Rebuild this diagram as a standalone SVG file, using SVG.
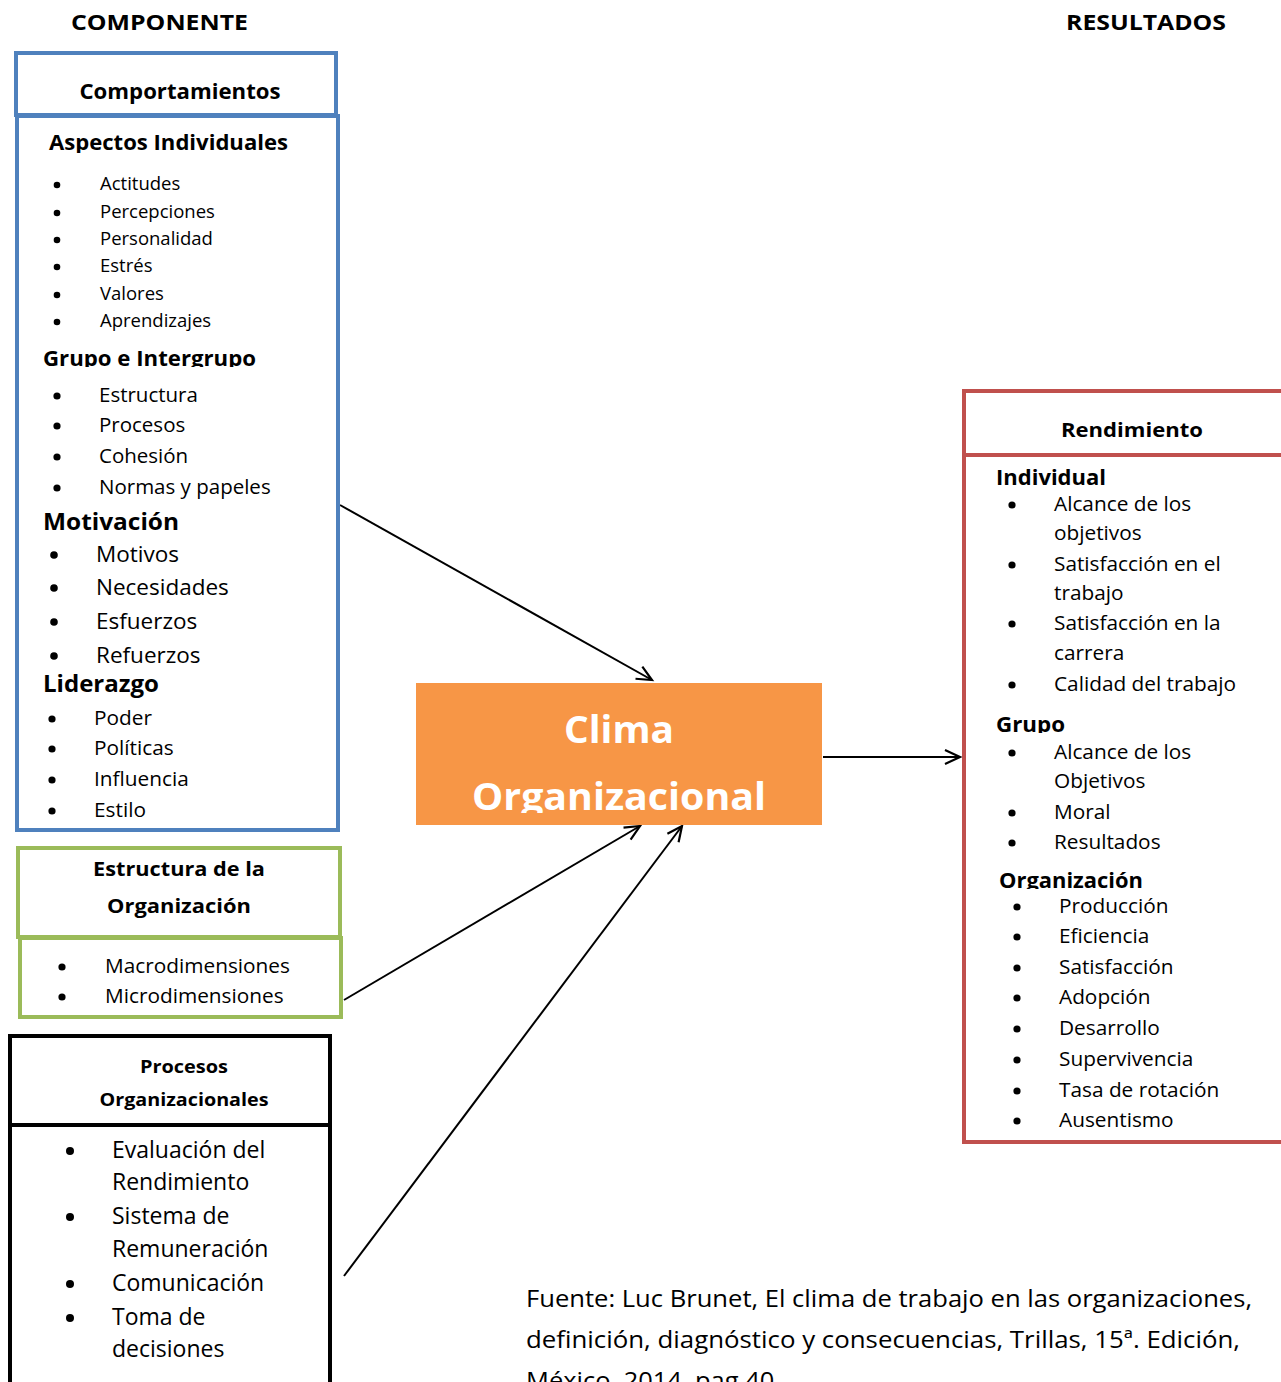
<svg xmlns="http://www.w3.org/2000/svg" width="1281" height="1382" viewBox="0 0 1281 1382">
<style>
text{font-family:"Open Sans","Liberation Sans",sans-serif;fill:#000}
.b{font-weight:bold}
.c{text-anchor:middle}
.w{fill:#fff}
.conn{stroke:#000;stroke-width:2;fill:none;marker-end:url(#arr)}
</style>
<defs>
<marker id="arr" markerUnits="userSpaceOnUse" markerWidth="20" markerHeight="20" refX="17" refY="8" orient="auto" viewBox="0 0 20 16">
<path d="M2,1 L17,8 L2,15" fill="none" stroke="#000" stroke-width="2.2"/>
</marker>
<clipPath id="cA"><rect x="0" y="120" width="340" height="33"/></clipPath>
<clipPath id="cG"><rect x="0" y="340" width="340" height="27"/></clipPath>
<clipPath id="cM"><rect x="0" y="505" width="340" height="26"/></clipPath>
<clipPath id="cRG"><rect x="980" y="705" width="300" height="28"/></clipPath>
<clipPath id="cRO"><rect x="980" y="860" width="300" height="29"/></clipPath>
<clipPath id="cO"><rect x="416" y="683" width="406" height="130"/></clipPath>
</defs>

<g id="titles">
<text class="b" x="71" y="30" font-size="22" textLength="177" lengthAdjust="spacingAndGlyphs">COMPONENTE</text>
<text class="b" x="1066" y="30" font-size="22" textLength="160" lengthAdjust="spacingAndGlyphs">RESULTADOS</text>
</g>

<g id="connectors">
<line class="conn" x1="340" y1="505" x2="652" y2="680"/>
<line class="conn" x1="823" y1="757" x2="960" y2="757"/>
<line class="conn" x1="344" y1="1000" x2="640" y2="826"/>
<line class="conn" x1="344" y1="1276" x2="682" y2="826"/>
</g>

<g id="comportamientos">
<rect x="16" y="53" width="320" height="62" fill="#fff" stroke="#4F81BD" stroke-width="4"/>
<rect x="17" y="116" width="321" height="714" fill="#fff" stroke="#4F81BD" stroke-width="4"/>
<text class="b c" x="180" y="99" font-size="21" textLength="201" lengthAdjust="spacingAndGlyphs">Comportamientos</text>
<text class="b" x="49" y="150" font-size="21" textLength="239" lengthAdjust="spacingAndGlyphs" clip-path="url(#cA)">Aspectos Individuales</text>
<g font-size="18.5">
<circle cx="57" cy="185" r="3.3"/><text x="100" y="190">Actitudes</text>
<circle cx="57" cy="213" r="3.3"/><text x="100" y="218">Percepciones</text>
<circle cx="57" cy="240" r="3.3"/><text x="100" y="245">Personalidad</text>
<circle cx="57" cy="267" r="3.3"/><text x="100" y="272">Estrés</text>
<circle cx="57" cy="295" r="3.3"/><text x="100" y="300">Valores</text>
<circle cx="57" cy="322" r="3.3"/><text x="100" y="327">Aprendizajes</text>
</g>
<text class="b" x="43" y="366" font-size="21" textLength="213" lengthAdjust="spacingAndGlyphs" clip-path="url(#cG)">Grupo e Intergrupo</text>
<g font-size="20.5">
<circle cx="57" cy="396" r="3.6"/><text x="99" y="402">Estructura</text>
<circle cx="57" cy="426" r="3.6"/><text x="99" y="432">Procesos</text>
<circle cx="57" cy="457" r="3.6"/><text x="99" y="463">Cohesión</text>
<circle cx="57" cy="488" r="3.6"/><text x="99" y="494">Normas y papeles</text>
</g>
<text class="b" x="43" y="530" font-size="23" textLength="136" lengthAdjust="spacingAndGlyphs" clip-path="url(#cM)">Motivación</text>
<g font-size="22.5">
<circle cx="54" cy="555" r="3.8"/><text x="96" y="562">Motivos</text>
<circle cx="54" cy="588" r="3.8"/><text x="96" y="595">Necesidades</text>
<circle cx="54" cy="622" r="3.8"/><text x="96" y="629">Esfuerzos</text>
<circle cx="54" cy="656" r="3.8"/><text x="96" y="663">Refuerzos</text>
</g>
<text class="b" x="43" y="692" font-size="23" textLength="116" lengthAdjust="spacingAndGlyphs">Liderazgo</text>
<g font-size="20.8">
<circle cx="52" cy="719" r="3.6"/><text x="94" y="725">Poder</text>
<circle cx="52" cy="749" r="3.6"/><text x="94" y="755">Políticas</text>
<circle cx="52" cy="780" r="3.6"/><text x="94" y="786">Influencia</text>
<circle cx="52" cy="811" r="3.6"/><text x="94" y="817">Estilo</text>
</g>
</g>

<g id="estructura">
<rect x="18" y="848" width="322" height="89" fill="#fff" stroke="#9BBB59" stroke-width="4"/>
<rect x="20" y="938" width="321" height="79" fill="#fff" stroke="#9BBB59" stroke-width="4"/>
<text class="b c" x="179" y="876" font-size="20" textLength="172" lengthAdjust="spacingAndGlyphs">Estructura de la</text>
<text class="b c" x="179" y="913" font-size="20" textLength="144" lengthAdjust="spacingAndGlyphs">Organización</text>
<g font-size="20.8">
<circle cx="62" cy="967" r="3.6"/><text x="105" y="973">Macrodimensiones</text>
<circle cx="62" cy="997" r="3.6"/><text x="105" y="1003">Microdimensiones</text>
</g>
</g>

<g id="procesos">
<rect x="10" y="1036" width="320" height="89" fill="#fff" stroke="#000" stroke-width="4"/>
<rect x="10" y="1125" width="320" height="280" fill="#fff" stroke="#000" stroke-width="4"/>
<text class="b c" x="184" y="1073" font-size="18" textLength="88" lengthAdjust="spacingAndGlyphs">Procesos</text>
<text class="b c" x="184" y="1106" font-size="18" textLength="169" lengthAdjust="spacingAndGlyphs">Organizacionales</text>
<g font-size="23">
<circle cx="70" cy="1151" r="4"/><text x="112" y="1158">Evaluación del</text>
<text x="112" y="1190">Rendimiento</text>
<circle cx="70" cy="1217" r="4"/><text x="112" y="1224">Sistema de</text>
<text x="112" y="1257">Remuneración</text>
<circle cx="70" cy="1284" r="4"/><text x="112" y="1291">Comunicación</text>
<circle cx="70" cy="1318" r="4"/><text x="112" y="1325">Toma de</text>
<text x="112" y="1357">decisiones</text>
</g>
</g>

<g id="clima">
<rect x="416" y="683" width="406" height="142" fill="#F79646"/>
<g clip-path="url(#cO)">
<text class="b c w" x="619" y="743" font-size="38" textLength="110" lengthAdjust="spacingAndGlyphs">Clima</text>
<text class="b c w" x="619" y="810" font-size="38" textLength="294" lengthAdjust="spacingAndGlyphs">Organizacional</text>
</g>
</g>

<g id="rendimiento">
<rect x="964" y="391" width="340" height="64" fill="#fff" stroke="#C0504D" stroke-width="4"/>
<rect x="964" y="455" width="340" height="687" fill="#fff" stroke="#C0504D" stroke-width="4"/>
<text class="b c" x="1132" y="437" font-size="20" textLength="142" lengthAdjust="spacingAndGlyphs">Rendimiento</text>
<text class="b" x="996" y="485" font-size="21" textLength="110" lengthAdjust="spacingAndGlyphs">Individual</text>
<g font-size="20.8">
<circle cx="1012" cy="505" r="3.6"/><text x="1054" y="511">Alcance de los</text>
<text x="1054" y="540">objetivos</text>
<circle cx="1012" cy="565" r="3.6"/><text x="1054" y="571">Satisfacción en el</text>
<text x="1054" y="600">trabajo</text>
<circle cx="1012" cy="624" r="3.6"/><text x="1054" y="630">Satisfacción en la</text>
<text x="1054" y="660">carrera</text>
<circle cx="1012" cy="685" r="3.6"/><text x="1054" y="691">Calidad del trabajo</text>
</g>
<text class="b" x="996" y="732" font-size="21" textLength="69" lengthAdjust="spacingAndGlyphs" clip-path="url(#cRG)">Grupo</text>
<g font-size="20.8">
<circle cx="1012" cy="753" r="3.6"/><text x="1054" y="759">Alcance de los</text>
<text x="1054" y="788">Objetivos</text>
<circle cx="1012" cy="813" r="3.6"/><text x="1054" y="819">Moral</text>
<circle cx="1012" cy="843" r="3.6"/><text x="1054" y="849">Resultados</text>
</g>
<text class="b" x="999" y="888" font-size="21" textLength="144" lengthAdjust="spacingAndGlyphs" clip-path="url(#cRO)">Organización</text>
<g font-size="20.8">
<circle cx="1017" cy="907" r="3.6"/><text x="1059" y="913">Producción</text>
<circle cx="1017" cy="937" r="3.6"/><text x="1059" y="943">Eficiencia</text>
<circle cx="1017" cy="968" r="3.6"/><text x="1059" y="974">Satisfacción</text>
<circle cx="1017" cy="998" r="3.6"/><text x="1059" y="1004">Adopción</text>
<circle cx="1017" cy="1029" r="3.6"/><text x="1059" y="1035">Desarrollo</text>
<circle cx="1017" cy="1060" r="3.6"/><text x="1059" y="1066">Supervivencia</text>
<circle cx="1017" cy="1091" r="3.6"/><text x="1059" y="1097">Tasa de rotación</text>
<circle cx="1017" cy="1121" r="3.6"/><text x="1059" y="1127">Ausentismo</text>
</g>
</g>

<g id="fuente" font-size="23">
<text x="526" y="1307" textLength="726" lengthAdjust="spacingAndGlyphs">Fuente: Luc Brunet, El clima de trabajo en las organizaciones,</text>
<text x="526" y="1348" textLength="714" lengthAdjust="spacingAndGlyphs">definición, diagnóstico y consecuencias, Trillas, 15ª. Edición,</text>
<text x="526" y="1389" textLength="255" lengthAdjust="spacingAndGlyphs">México, 2014, pag 40.</text>
</g>
</svg>
